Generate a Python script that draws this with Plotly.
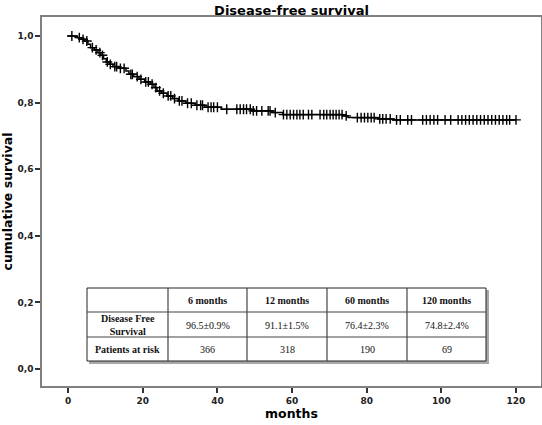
import plotly.graph_objects as go
import numpy as np

# Kaplan-Meier step data (months, survival after event)
event_months = [0, 2.5, 3.5, 4.5, 5.3, 6.0, 7.0, 8.0, 8.8, 9.5, 10.2, 11.0, 12.0, 13.5,
                15.5, 16.3, 17.5, 19.0, 20.5, 22.0, 23.0, 23.8, 25.0, 26.5, 28.0, 29.5,
                31.5, 34.0, 36.5, 41.0, 49.0, 55.0, 57.5, 73.5, 75.0, 83.0, 87.0]
survival = [1.0, 0.995, 0.990, 0.985, 0.975, 0.965, 0.958, 0.950, 0.942, 0.932, 0.922,
            0.915, 0.908, 0.903, 0.895, 0.885, 0.878, 0.870, 0.862, 0.855, 0.845, 0.835,
            0.828, 0.820, 0.812, 0.805, 0.798, 0.792, 0.786, 0.780, 0.775, 0.770, 0.764,
            0.760, 0.755, 0.751, 0.748]
end_month = 120

censor_months = [1, 3, 4, 5, 6.5, 7.5, 8.5, 9.2, 10.5, 11.3, 12.5, 13, 14, 15, 16.8, 17.2,
                 18.5, 19.5, 20.8, 21.5, 22.5, 23.5, 24.5, 25.5, 26.8, 27.5, 28.5, 29.8,
                 30.5, 32, 33, 34.5, 35.5, 36, 37.5, 38.3, 39, 40, 42.5, 45.2, 46.1, 47,
                 47.8, 48.8, 49.6, 50.5, 51.9, 53.6, 54.1, 55.5, 57.7, 58.6, 59.5, 60.4,
                 61.3, 62.1, 63, 64.4, 65.3, 67.5, 68.5, 69.3, 70.2, 71, 71.8, 72.6, 73.4,
                 74.5, 77.5, 78.5, 79.4, 80.3, 81.2, 82, 83.5, 84.3, 85.2, 86.3, 88, 89,
                 91, 92, 95, 96, 97, 98, 99, 101, 102.5, 104.5, 105.5, 106.5, 107.5,
                 108.5, 109.5, 110.5, 111.5, 112.5, 113.5, 114.5, 115.5, 116.5, 117.5,
                 118.3, 120]

table_header = ["", "6 months", "12 months", "60 months", "120 months"]
row_labels = ["Disease Free<br>Survival", "Patients at risk"]
dfs_values = ["96.5±0.9%", "91.1±1.5%", "76.4±2.3%", "74.8±2.4%"]
at_risk = [366, 318, 190, 69]

x_ticks = [0, 20, 40, 60, 80, 100, 120]
y_ticks = [0.0, 0.2, 0.4, 0.6, 0.8, 1.0]

# ---- layout geometry (pixels) ----
W, H = 542, 425
ML, MR, MT, MB = 42, 1, 17, 39
PW, PH = W - ML - MR, H - MT - MB
TABLE_X = [87, 168, 247, 327, 407, 486]
TABLE_Y = [288, 312, 337, 361]


def px_x(p):
    return (p - ML) / PW


def px_y(p):
    return (H - MB - p) / PH


# survival at censor times from step function
ev = np.array(event_months)
sv = np.array(survival)
censor_y = [sv[np.searchsorted(ev, t, side="right") - 1] for t in censor_months]

fig = go.Figure()
fig.add_trace(go.Scatter(
    x=event_months + [end_month], y=survival + [survival[-1]],
    mode="lines", line=dict(color="black", width=1.5, shape="hv"),
    showlegend=False, hoverinfo="skip"))
fig.add_trace(go.Scatter(
    x=censor_months, y=censor_y, mode="markers",
    marker=dict(symbol="cross-thin", size=7, line=dict(color="black", width=1.4)),
    showlegend=False))

# ---- table (shapes + annotations) ----
shapes = []
shapes.append(dict(type="rect", xref="paper", yref="paper",
                   x0=px_x(TABLE_X[0] + 2), x1=px_x(TABLE_X[-1] + 3),
                   y0=px_y(TABLE_Y[-1] + 3), y1=px_y(TABLE_Y[0] + 2),
                   fillcolor="#a8a8a8", line=dict(width=0), layer="above"))
shapes.append(dict(type="rect", xref="paper", yref="paper",
                   x0=px_x(TABLE_X[0]), x1=px_x(TABLE_X[-1]),
                   y0=px_y(TABLE_Y[-1]), y1=px_y(TABLE_Y[0]),
                   fillcolor="white", line=dict(color="#222222", width=1), layer="above"))
for xv in TABLE_X[1:-1]:
    shapes.append(dict(type="line", xref="paper", yref="paper",
                       x0=px_x(xv), x1=px_x(xv), y0=px_y(TABLE_Y[-1]), y1=px_y(TABLE_Y[0]),
                       line=dict(color="#444444", width=1.2), layer="above"))
for yv in TABLE_Y[1:-1]:
    shapes.append(dict(type="line", xref="paper", yref="paper",
                       x0=px_x(TABLE_X[0]), x1=px_x(TABLE_X[-1]), y0=px_y(yv), y1=px_y(yv),
                       line=dict(color="#444444", width=1.2), layer="above"))

serif = "Liberation Serif"
annotations = []
rows = [["<b>%s</b>" % h if h else "" for h in table_header],
        ["<b>%s</b>" % row_labels[0]] + dfs_values,
        ["<b>%s</b>" % row_labels[1]] + [str(v) for v in at_risk]]
for r, row in enumerate(rows):
    yc = (TABLE_Y[r] + TABLE_Y[r + 1]) / 2
    for c, txt in enumerate(row):
        if not txt:
            continue
        xc = (TABLE_X[c] + TABLE_X[c + 1]) / 2
        annotations.append(dict(text=txt, xref="paper", yref="paper",
                                x=px_x(xc), y=px_y(yc + 0.5), xanchor="center",
                                yanchor="middle", showarrow=False,
                                font=dict(family=serif, size=10, color="#111111")))

axis_font = dict(family="DejaVu Sans", size=9, color="#222222", weight="bold")
fig.update_layout(
    width=W, height=H,
    margin=dict(l=ML, r=MR, t=MT, b=MB, autoexpand=False),
    paper_bgcolor="white", plot_bgcolor="white",
    separators=", ",
    shapes=shapes, annotations=annotations,
    title=dict(text="Disease-free survival", x=0.5, xanchor="center",
               xref="paper", y=1 - 10 / H, yref="container", yanchor="middle",
               font=dict(family="DejaVu Sans", size=13, color="black", weight="bold")),
    xaxis=dict(range=[-7, 126.7], tickvals=x_ticks, ticks="outside", ticklen=5,
               tickcolor="#333333", tickwidth=1.5, tickfont=axis_font, automargin=False,
               showgrid=False, zeroline=False, showline=True, linecolor="#808080",
               linewidth=1.5, mirror=True,
               title=dict(text="months", standoff=4,
                          font=dict(family="DejaVu Sans", size=12.5, color="black",
                                    weight="bold"))),
    yaxis=dict(range=[-0.051, 1.057], tickvals=y_ticks, tickformat=".1f",
               ticks="outside", ticklen=5, tickcolor="#333333", tickwidth=1.5,
               tickfont=axis_font, automargin=False, showgrid=False, zeroline=False,
               showline=True, linecolor="#808080", linewidth=1.5, mirror=True,
               title=dict(text="cumulative survival", standoff=2,
                          font=dict(family="DejaVu Sans", size=12.5, color="black",
                                    weight="bold"))),
)

fig.write_html("out.html", config={"displayModeBar": False},
               post_script="document.body.style.margin='0';document.body.style.overflow='hidden';")
